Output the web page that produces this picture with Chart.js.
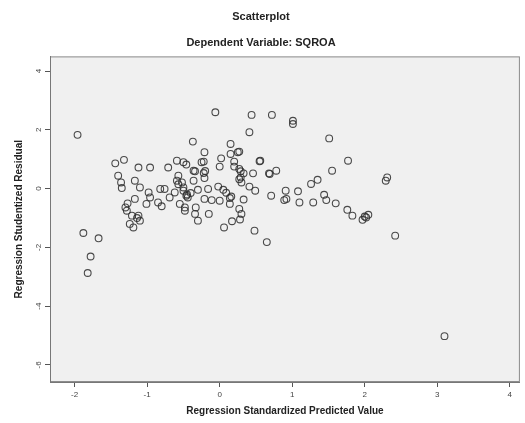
<!DOCTYPE html>
<html>
<head>
<meta charset="utf-8">
<script src="https://cdn.jsdelivr.net/npm/chart.js@4/dist/chart.umd.min.js"></script>
<style>
  html, body { margin: 0; padding: 0; background: #fff; }
  #wrap { position: relative; width: 525px; height: 423px; }
</style>
</head>
<body>
<div id="wrap"><canvas id="scatter"></canvas></div>
<script>
// Regression standardized predicted value (x) and studentized residual (y)
const predicted = [
  -1.96, -1.44, -1.32, -1.12, -0.96, -0.71, -0.59, -0.50, -1.40, -1.36,
  -1.35, -1.17, -1.10, -0.98, -0.82, -0.76, -0.96, -1.01, -0.85, -1.17,
  -0.69, -0.62, -0.59, -0.57, -0.50, -0.46, -0.55, -0.48, -1.30, -1.28,
  -1.21, -1.12, -1.10, -1.24, -1.19, -1.88, -1.67, -1.78, -1.82, -0.06,
  0.44, 0.72, 1.01, 1.01, 0.41, -0.37, 0.15, -0.21, 0.27, 0.15,
  0.02, -0.22, 0.20, 0.55, 0.00, 0.27, 0.29, -0.46, -0.34, -0.22,
  -0.21, 0.29, 0.33, 0.46, 0.30, 0.41, 0.49, 0.68, 0.78, 1.26,
  0.91, 1.08, 0.71, 0.89, 1.10, 1.29, -0.50, -0.45, -0.30, -0.16,
  -0.02, 0.05, -0.21, -0.11, 0.00, 0.14, 0.14, 0.33, -0.48, -0.33,
  -0.34, -0.15, 0.27, 0.30, 0.28, 0.17, -0.30, 0.06, 0.48, 0.65,
  1.51, 1.77, 1.55, 1.44, 1.47, 1.60, 2.31, 2.29, 1.76, 1.83,
  1.97, 2.05, 2.02, 2.42, 3.10, -0.36, -0.20, 0.56, 0.69, 0.92,
  -0.36, 0.25, 0.09, 0.16, 0.20, -0.25, 0.27, -0.52, -0.57, 2.00,
  -0.40, -0.44, -1.27, -1.14, -0.80, 1.35
];
const residual = [
  1.83, 0.86, 0.98, 0.72, 0.72, 0.72, 0.95, 0.90, 0.44, 0.21,
  0.02, 0.27, 0.04, -0.13, -0.01, -0.01, -0.30, -0.52, -0.47, -0.35,
  -0.30, -0.13, 0.27, 0.44, -0.07, -0.24, -0.52, -0.75, -0.64, -0.75,
  -0.92, -0.92, -1.09, -1.20, -1.32, -1.51, -1.69, -2.31, -2.87, 2.60,
  2.51, 2.51, 2.31, 2.20, 1.92, 1.60, 1.52, 1.24, 1.26, 1.18,
  1.03, 0.92, 0.92, 0.93, 0.75, 0.67, 0.59, 0.82, 0.59, 0.53,
  0.36, 0.38, 0.52, 0.52, 0.21, 0.07, -0.07, 0.52, 0.61, 0.16,
  -0.07, -0.09, -0.24, -0.39, -0.47, -0.47, 0.04, -0.20, -0.04, -0.01,
  0.07, -0.04, -0.35, -0.39, -0.41, -0.32, -0.52, -0.37, -0.64, -0.64,
  -0.86, -0.86, -0.69, -0.86, -1.05, -1.11, -1.09, -1.32, -1.43, -1.82,
  1.71, 0.95, 0.61, -0.21, -0.39, -0.50, 0.38, 0.27, -0.72, -0.92,
  -1.06, -0.89, -0.98, -1.60, -5.02, 0.61, 0.60, 0.95, 0.50, -0.35,
  0.27, 1.24, -0.14, -0.27, 0.75, 0.90, 0.32, 0.21, 0.15, -0.95,
  -0.15, -0.30, -0.50, -1.00, -0.60, 0.30
];
const xTicks = [-2, -1, 0, 1, 2, 3, 4];
const yTicks = [4, 2, 0, -2, -4, -6];

const points = predicted.map((x, i) => ({ x: x, y: residual[i] }));

const plotFrame = {
  id: "plotFrame",
  beforeDraw(chart) {
    const { ctx, chartArea: a } = chart;
    ctx.save();
    ctx.fillStyle = "#f0f0f0";
    ctx.fillRect(a.left, a.top, a.right - a.left, a.bottom - a.top);
    ctx.strokeStyle = "#8c8c8c";
    ctx.lineWidth = 1;
    ctx.strokeRect(a.left + 0.5, a.top + 0.5, a.right - a.left - 1, a.bottom - a.top - 1);
    ctx.restore();
  },
};

const tickFont = { family: "Liberation Sans, Arial, sans-serif", size: 8 };
const labelFont = { family: "Liberation Sans, Arial, sans-serif", size: 10, weight: "bold" };

new Chart(document.getElementById("scatter"), {
  type: "scatter",
  data: {
    datasets: [
      {
        data: points,
        pointStyle: "circle",
        pointRadius: 3.4,
        pointBorderWidth: 1.1,
        pointBorderColor: "rgba(45,45,45,0.85)",
        pointBackgroundColor: "rgba(0,0,0,0)",
      },
    ],
  },
  options: {
    responsive: true,
    maintainAspectRatio: false,
    animation: false,
    layout: { padding: { right: 3 } },
    plugins: {
      legend: { display: false },
      tooltip: { enabled: false },
      title: {
        display: true,
        text: "Scatterplot",
        color: "#222",
        font: { family: "Liberation Sans, Arial, sans-serif", size: 11, weight: "bold" },
        padding: { top: 10, bottom: 13 },
      },
      subtitle: {
        display: true,
        text: "Dependent Variable: SQROA",
        color: "#222",
        font: { family: "Liberation Sans, Arial, sans-serif", size: 11, weight: "bold" },
        padding: { top: 0, bottom: 7 },
      },
    },
    scales: {
      x: {
        type: "linear",
        min: -2.34,
        max: 4.14,
        afterBuildTicks: (scale) => {
          scale.ticks = xTicks.map((v) => ({ value: v }));
        },
        afterFit: (scale) => {
          scale.height = 41;
        },
        grid: { drawOnChartArea: false, tickLength: 5, color: "#555" },
        border: { display: true, color: "#777" },
        ticks: { font: tickFont, color: "#444", padding: 3, maxRotation: 0 },
        title: {
          display: true,
          text: "Regression Standardized Predicted Value",
          color: "#222",
          font: labelFont,
          padding: { top: 0, bottom: 6 },
        },
      },
      y: {
        type: "linear",
        min: -6.58,
        max: 4.5,
        afterBuildTicks: (scale) => {
          scale.ticks = yTicks.map((v) => ({ value: v }));
        },
        afterFit: (scale) => {
          scale.width = 50;
        },
        grid: { drawOnChartArea: false, tickLength: 5, color: "#555" },
        border: { display: true, color: "#777" },
        ticks: {
          font: tickFont,
          color: "#444",
          padding: 3,
          minRotation: 90,
          maxRotation: 90,
          crossAlign: "center",
        },
        title: {
          display: true,
          text: "Regression Studentized Residual",
          color: "#222",
          font: labelFont,
          padding: { top: 13, bottom: 0 },
        },
      },
    },
  },
  plugins: [plotFrame],
});
</script>
</body>
</html>
